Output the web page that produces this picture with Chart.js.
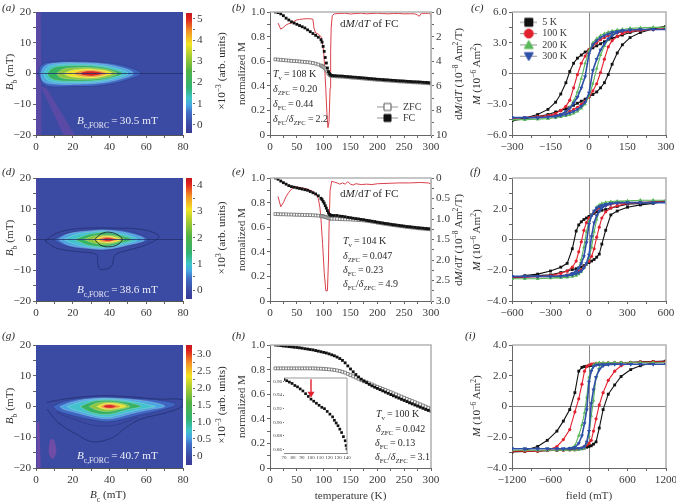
<!DOCTYPE html>
<html><head><meta charset="utf-8">
<style>
html,body{margin:0;padding:0;background:#fff;width:676px;height:504px;overflow:hidden}
#stage{position:absolute;left:0;top:0;width:676px;height:504px;font-family:"Liberation Serif",serif;color:#2b2b2b;filter:blur(.35px)}
canvas{position:absolute}
.t{position:absolute;white-space:nowrap;transform:translate(0,-50%);line-height:1}
.r{transform:translate(-50%,-50%) rotate(-90deg)}
.c{transform:translate(-50%,-50%)}
sub,sup{font-size:68%;line-height:0}
</style>
<script src="https://cdn.jsdelivr.net/npm/chart.js@4"></script>
</head><body><div id="stage"></div>
<script>
/* ---------- magnetisation versus temperature ---------- */
const tempFine=[10,15,20,25,30,35,40,45,50,55,60,65,70,75,80,85,90,95,97,99,101,103,105,107,109,111,113,115,120,125,130,135,140,145,150,155,160,165,170,175,180,185,190,195,200,205,210,215,220,225,230,235,240,245,250,255,260,265,270,275,280,285,290,295,300];
const fcB=[1,.995,.985,.97,.95,.935,.92,.91,.9,.89,.88,.87,.855,.84,.825,.81,.795,.775,.755,.72,.68,.63,.585,.545,.515,.498,.488,.484,.482,.48,.479,.478,.476,.474,.472,.47,.469,.467,.465,.463,.461,.459,.457,.455,.453,.452,.45,.448,.447,.445,.444,.442,.44,.439,.438,.436,.435,.433,.432,.431,.43,.428,.427,.425,.423];
const zfcB=[.615,.613,.611,.609,.607,.605,.603,.601,.6,.598,.596,.594,.592,.589,.585,.58,.573,.565,.56,.555,.548,.54,.53,.515,.5,.49,.483,.48,.478,.476,.475,.474,.472,.47,.468,.466,.465,.463,.461,.459,.457,.455,.453,.451,.449,.448,.446,.444,.443,.441,.44,.438,.436,.435,.434,.432,.431,.429,.428,.427,.426,.424,.423,.421,.418];
const fcE=[1,.99,.975,.962,.95,.938,.93,.925,.92,.915,.91,.905,.9,.89,.88,.87,.855,.835,.825,.81,.795,.775,.755,.735,.715,.703,.698,.696,.695,.695,.69,.688,.685,.68,.677,.673,.67,.667,.663,.66,.655,.652,.648,.645,.64,.637,.633,.63,.627,.623,.62,.617,.614,.611,.608,.605,.603,.6,.598,.595,.593,.591,.589,.587,.585];
const zfcE=[.707,.706,.705,.705,.704,.703,.703,.702,.701,.701,.7,.699,.699,.698,.697,.696,.694,.691,.69,.688,.686,.684,.681,.678,.675,.672,.67,.669,.668,.667,.666,.665,.664,.664,.663,.661,.66,.658,.657,.655,.652,.649,.645,.642,.637,.634,.63,.627,.624,.62,.617,.614,.611,.608,.605,.602,.6,.597,.595,.592,.59,.588,.586,.584,.582];
const tempEven=[10,15,20,25,30,35,40,45,50,55,60,65,70,75,80,85,90,95,100,105,110,115,120,125,130,135,140,145,150,155,160,165,170,175,180,185,190,195,200,205,210,215,220,225,230,235,240,245,250,255,260,265,270,275,280,285,290,295,300];
const fcH=[1,.998,.995,.992,.99,.987,.985,.982,.98,.977,.974,.97,.967,.963,.96,.955,.95,.945,.94,.935,.928,.92,.912,.902,.89,.875,.855,.83,.805,.782,.76,.74,.722,.707,.695,.68,.668,.657,.647,.637,.627,.617,.607,.597,.587,.577,.568,.558,.549,.54,.53,.521,.512,.503,.494,.485,.476,.468,.46];
const zfcH=[.81,.81,.81,.81,.81,.81,.81,.81,.81,.81,.81,.81,.81,.81,.81,.809,.808,.807,.806,.804,.802,.8,.797,.793,.788,.782,.775,.765,.755,.745,.735,.725,.715,.705,.697,.688,.679,.67,.66,.652,.643,.634,.625,.616,.607,.598,.589,.58,.571,.562,.553,.544,.535,.526,.517,.508,.499,.49,.481];
const tempDmB=[15,20,25,30,35,40,45,50,55,60,65,70,75,80,82,85,90,95,98,100,102,104,106,108,110,112,113,114,116,120,130,140,150,160,170,180,190,200,210,220,230,240,250,260,270,275,278,282,290,296,299,300];
const dmdtB=[.9,1.4,1.25,1.05,.95,.9,.75,.65,.6,.58,.55,.55,.55,.6,1.3,1.7,1.8,2.0,2.6,3.2,4.6,6.3,8.2,9.4,8.9,6.2,3.2,1.3,.3,.15,.12,.1,.16,.12,.1,.15,.12,.1,.13,.15,.12,.12,.15,.14,.15,.25,.35,.1,.12,.1,.2,.5];
const tempDmE=[15,20,25,30,35,40,45,50,60,70,80,85,90,93,95,98,101,104,107,109,110,112,115,120,125,130,135,140,145,150,155,160,170,180,190,200,220,240,260,280,295,300];
const dmdtE=[.45,.7,.6,.45,.35,.27,.22,.22,.24,.27,.33,.38,.5,.72,1.0,1.6,2.3,2.75,2.75,2.0,1.2,.3,.08,.1,.12,.15,.12,.15,.09,.15,.17,.14,.16,.15,.16,.14,.13,.12,.12,.11,.12,.15];
const insetT=[70,73,76,79,82,85,88,91,94,97,100,103,106,109,112,115,118,121,124,126,128,130,132,134,136,138,139,140];
const insetM=[.963,.961,.959,.957,.954,.952,.949,.946,.942,.938,.934,.931,.928,.925,.922,.92,.916,.912,.908,.903,.899,.895,.89,.885,.879,.873,.866,.861];
const insetArrowT=[100,100];
const insetArrowM=[.963,.942];
/* ---------- hysteresis loops ---------- */
const fieldC=[-300,-250,-200,-160,-130,-110,-90,-75,-60,-45,-30,-15,0,15,30,45,60,75,90,110,130,160,200,250,300];
const c5Up=[-4.6,-4.35,-4,-3.5,-2.8,-2,-.9,.2,1,1.5,1.8,2.1,2.3,2.5,2.7,2.9,3.1,3.3,3.45,3.6,3.75,4,4.2,4.4,4.6];
const c5Lo=[-4.6,-4.4,-4.2,-4,-3.75,-3.6,-3.45,-3.3,-3.1,-2.9,-2.7,-2.5,-2.25,-2.05,-1.8,-1.4,-.9,-.1,.9,2,2.8,3.5,4,4.35,4.6];
const c100Up=[-4.4,-4.3,-4.2,-4.1,-3.9,-3.6,-3.2,-2.6,-1.4,-.1,1,1.7,2.3,2.7,3,3.3,3.5,3.7,3.8,3.95,4.05,4.15,4.25,4.3,4.4];
const c100Lo=[-4.4,-4.3,-4.25,-4.15,-4.05,-3.95,-3.8,-3.7,-3.5,-3.3,-3,-2.7,-2.3,-1.7,-1,.1,1.4,2.6,3.2,3.6,3.9,4.1,4.2,4.3,4.4];
const c200Up=[-4.5,-4.5,-4.45,-4.4,-4.3,-4.1,-3.8,-3.3,-2.7,-1.8,-.5,1,2.2,3,3.4,3.7,3.9,4.05,4.15,4.25,4.3,4.4,4.45,4.5,4.5];
const c200Lo=[-4.5,-4.5,-4.45,-4.4,-4.3,-4.25,-4.15,-4.05,-3.9,-3.7,-3.4,-3,-2.2,-1,.5,1.8,2.7,3.3,3.8,4.1,4.3,4.4,4.45,4.5,4.5];
const c300Up=[-4.3,-4.3,-4.3,-4.25,-4.15,-4,-3.7,-3.4,-2.9,-2.3,-1.4,-.3,1.9,2.8,3.2,3.5,3.7,3.85,4,4.1,4.2,4.25,4.3,4.3,4.3];
const c300Lo=[-4.3,-4.3,-4.3,-4.25,-4.2,-4.1,-4,-3.85,-3.7,-3.5,-3.2,-2.8,-1.9,.3,1.4,2.3,2.9,3.4,3.7,4,4.15,4.25,4.3,4.3,4.3];
const fieldF=[-600,-500,-400,-300,-220,-170,-130,-100,-80,-60,-40,-20,0,20,40,60,80,100,130,170,220,300,400,500,600];
const f5Up=[-2.5,-2.35,-2.25,-2.05,-1.8,-1.55,-.6,.55,.95,1.15,1.3,1.4,1.5,1.6,1.7,1.8,1.85,1.9,1.95,2.05,2.15,2.3,2.35,2.45,2.5];
const f5Lo=[-2.5,-2.45,-2.35,-2.3,-2.15,-2.05,-1.95,-1.9,-1.85,-1.8,-1.7,-1.6,-1.5,-1.4,-1.3,-1.15,-.95,-.3,.6,1.6,1.85,2.1,2.25,2.35,2.5];
const f100Up=[-2.45,-2.45,-2.4,-2.35,-2.2,-2.05,-1.8,-1.4,-.8,-.15,.6,1.1,1.4,1.6,1.8,1.95,2.05,2.1,2.2,2.3,2.35,2.4,2.42,2.45,2.45];
const f100Lo=[-2.45,-2.45,-2.42,-2.4,-2.35,-2.3,-2.2,-2.1,-2.05,-1.95,-1.8,-1.6,-1.4,-1.1,-.6,.15,.8,1.4,1.8,2.05,2.2,2.35,2.4,2.45,2.45];
const f200Up=[-2.55,-2.55,-2.55,-2.5,-2.45,-2.4,-2.3,-2.1,-1.85,-1.3,-.5,.5,1.2,1.6,1.85,2.1,2.25,2.35,2.42,2.47,2.5,2.52,2.55,2.55,2.55];
const f200Lo=[-2.55,-2.55,-2.55,-2.52,-2.5,-2.47,-2.42,-2.35,-2.25,-2.1,-1.85,-1.6,-1.2,-.5,.5,1.3,1.85,2.1,2.3,2.4,2.45,2.5,2.55,2.55,2.55];
const f300Up=[-2.4,-2.4,-2.4,-2.4,-2.38,-2.32,-2.2,-2.05,-1.85,-1.55,-1.1,-.2,1,1.55,1.85,2.05,2.15,2.22,2.3,2.35,2.38,2.4,2.4,2.4,2.4];
const f300Lo=[-2.4,-2.4,-2.4,-2.4,-2.38,-2.35,-2.3,-2.22,-2.15,-2.05,-1.85,-1.55,-1,.2,1.1,1.55,1.85,2.05,2.2,2.32,2.38,2.4,2.4,2.4,2.4];
const fieldI=[-1200,-1000,-800,-650,-500,-400,-300,-220,-160,-110,-70,-35,0,35,70,110,160,220,300,400,500,650,800,1000,1200];
const i5Up=[-2.95,-2.85,-2.6,-2.2,-1.6,-.95,-.2,.9,2.3,2.55,2.6,2.62,2.65,2.67,2.7,2.72,2.75,2.78,2.8,2.82,2.85,2.87,2.9,2.93,2.95];
const i5Lo=[-2.95,-2.93,-2.9,-2.87,-2.85,-2.82,-2.8,-2.78,-2.75,-2.72,-2.7,-2.65,-2.6,-2.55,-2.45,-2.3,-1.4,-.2,.8,1.4,1.95,2.4,2.65,2.85,2.95];
const i100Up=[-2.9,-2.9,-2.9,-2.85,-2.6,-2.15,-1.5,-.35,.5,1.45,2.3,2.6,2.7,2.75,2.78,2.8,2.82,2.83,2.85,2.85,2.85,2.85,2.88,2.9,2.9];
const i100Lo=[-2.9,-2.9,-2.88,-2.85,-2.85,-2.85,-2.83,-2.82,-2.78,-2.7,-2.6,-2.5,-2.4,-2.2,-1.6,-.8,.1,.9,1.7,2.3,2.65,2.85,2.88,2.9,2.9];
const i200Up=[-2.85,-2.85,-2.85,-2.85,-2.85,-2.82,-2.7,-2.55,-1.9,-1.2,-.4,.6,1.9,2.35,2.7,2.8,2.85,2.85,2.85,2.85,2.85,2.85,2.85,2.85,2.85];
const i200Lo=[-2.85,-2.85,-2.85,-2.85,-2.85,-2.85,-2.85,-2.85,-2.82,-2.78,-2.7,-2.35,-1.9,-.6,.4,1.9,2.5,2.7,2.82,2.85,2.85,2.85,2.85,2.85,2.85];
const i300Up=[-2.75,-2.75,-2.75,-2.75,-2.75,-2.75,-2.72,-2.65,-2.4,-1.9,-1.1,-.2,1.6,2.3,2.6,2.7,2.72,2.73,2.75,2.75,2.75,2.75,2.75,2.75,2.75];
const i300Lo=[-2.75,-2.75,-2.75,-2.75,-2.75,-2.75,-2.75,-2.73,-2.72,-2.7,-2.6,-2.3,-1.6,.2,1.1,1.9,2.4,2.65,2.72,2.75,2.75,2.75,2.75,2.75,2.75];
/* ---------- FORC contours, outer level first: [Bc, Bb] ---------- */
const forcA=[
 [[1.3,0],[3,2.8],[10,3.8],[20,4],[35,3.7],[48,2.5],[57,0],[50,-2],[40,-3.5],[30,-4.2],[20,-4.2],[10,-4.4],[4,-3.5]],
 [[2.5,0],[5,2.5],[12,3.4],[22,3.5],[35,3.2],[46,2],[53,0],[46,-1.8],[35,-3.1],[22,-3.5],[10,-3.4],[4,-2.5]],
 [[4,0],[7,2.2],[14,3],[24,3.1],[35,2.7],[44,1.6],[50,0],[44,-1.5],[35,-2.6],[24,-3],[12,-2.9],[6,-2]],
 [[6,0],[9,1.8],[16,2.5],[25,2.6],[35,2.2],[42,1.3],[47,0],[42,-1.2],[35,-2.1],[25,-2.5],[14,-2.4],[8,-1.6]],
 [[11,0],[15,1.5],[22,1.9],[30,1.9],[37,1.5],[41,.9],[44,0],[41,-.9],[35,-1.6],[28,-1.9],[18,-1.8],[13,-1.2]],
 [[15,0],[19,1],[24,1.4],[30,1.5],[36,1.1],[40,.6],[41.5,0],[39,-.6],[35,-1.1],[30,-1.5],[24,-1.4],[18,-.9]],
 [[20,0],[24,.85],[30,1.15],[35,.85],[38.5,0],[35,-.85],[30,-1.15],[24,-.85]],
 [[23.5,0],[26,.6],[30,.8],[34,.55],[36.5,0],[33.5,-.55],[30,-.8],[26,-.6]]];
const forcD=[
 [[9,0],[16,1.9],[28,3.1],[38,3.4],[50,2.7],[61,0],[50,-2.1],[38,-3.5],[28,-3.2],[16,-2.1]],
 [[12,0],[18,1.9],[30,2.8],[38,3],[50,2.1],[59,0],[50,-1.8],[38,-3.1],[28,-2.8],[18,-1.9]],
 [[15,0],[22,1.7],[31,2.5],[38,2.7],[48,1.7],[55,0],[48,-1.5],[38,-2.7],[28,-2.4],[21,-1.5]],
 [[21,0],[27,1.4],[33,2.1],[38,2.3],[46,1.4],[52,0],[46,-1.2],[38,-2.3],[30,-2],[25,-1.1]],
 [[26,0],[31,1.1],[38,1.5],[44,1.1],[48,0],[44,-1],[38,-1.6],[31,-1.1]],
 [[31,0],[35,.9],[39,1.1],[43,.8],[46,0],[43,-.8],[39,-1.1],[35,-.9]],
 [[33.5,0],[36,.7],[39,.85],[42,.6],[44.5,0],[42,-.6],[39,-.85],[36,-.7]],
 [[35.5,0],[37,.4],[39,.55],[41.5,.4],[43,0],[41.5,-.4],[39,-.55],[37,-.4]]];
const forcG=[
 [[9,0],[15,1.6],[28,2.9],[40,3.1],[55,2.6],[70,1.8],[76,.6],[68,-1.2],[55,-3],[45,-4.5],[38,-5],[30,-4.3],[20,-3],[12,-1.5]],
 [[13,0],[20,1.5],[30,2.5],[40,2.7],[55,2.1],[67,.9],[70,0],[62,-1],[52,-2.3],[44,-3.6],[38,-4],[31,-3.4],[22,-2],[15,-.9]],
 [[17,0],[24,1.4],[32,2.2],[40,2.4],[53,1.6],[63,.3],[65,0],[58,-.8],[50,-1.9],[43,-3],[38,-3.4],[32,-2.9],[24,-1.6],[19,-.7]],
 [[24,0],[30,1.5],[38,2],[46,1.7],[54,.8],[57,0],[50,-1],[44,-2],[38,-2.6],[32,-2.2],[27,-1.1]],
 [[29,0],[33,1.1],[39,1.5],[46,1.1],[51,0],[46,-.9],[39,-1.6],[33,-1.1]],
 [[33,0],[36,.8],[40,1.1],[46,.7],[49,0],[45,-.6],[40,-1],[36,-.7]],
 [[35,0],[37,.6],[40,.8],[44,.5],[46,0],[44,-.5],[40,-.8],[37,-.6]],
 [[36.5,0],[38,.45],[40,.55],[42,.4],[43.5,0],[42,-.4],[40,-.5],[38,-.4]]];
const forcDOutlines=[
 [[5,-.5],[11,2],[22,3.5],[42,3.7],[58.5,3.2],[67,1],[60,-1.7],[49,-3.7],[43,-5],[41,-8.8],[35,-9.7],[33.5,-7.2],[33,-4.8],[22,-3.9],[11,-2.8]],
 [[32,0],[35,1.7],[39,2.4],[44,1.7],[47,0],[44,-1.8],[39,-2.4],[35,-1.8]]];
const forcGOutline=[[6,1.3],[15,2.4],[35,3.5],[53,3.1],[66,2.4],[80,2.2],[80,.2],[71,-2],[57,-4.1],[49,-6.8],[42,-10],[31,-11.5],[22,-9],[12,-5.2],[6,-.9]];
const forcGOutline2=[[11,-2],[20,-4],[30,-6],[38,-6.4],[46,-5.6],[55,-3.6]];
const forcAStreakV=[[0,20],[2.6,20],[3,-20],[0,-20]];
const forcAStreakD=[[2.5,-4],[6,-5],[21,-20],[15,-20]];
const forcDStreakV=[[0,20],[1.6,20],[1.8,-20],[0,-20]];
const forcGStreakV=[[.4,-5],[1.8,-5],[2.6,-20],[.4,-20]];
const forcGBlob=[[7.5,-11],[9,-10.5],[10.5,-12],[11,-15],[9,-17],[7,-15]];
const ridgeBc=[0,80];
const ridgeBb=[0,0];
/* ---------- axis ticks and scale limits ---------- */
const bcTicks=[0,20,40,60,80], bcMinor=[10,30,50,70];
const bbTicks=[-20,-10,0,10,20], bbMinor=[-15,-5,5,15];
const tTicks=[0,50,100,150,200,250,300], tMinor=[25,75,125,175,225,275];
const mnTicks=[0,.2,.4,.6,.8,1], mnMinor=[.1,.3,.5,.7,.9], mnLabels=['0','0.2','0.4','0.6','0.8','1.0'];
const dmTicksB=[0,2,4,6,8,10], dmMinorB=[1,3,5,7,9], dmLabelsB=['0','2','4','6','8','10'];
const dmTicksE=[0,.5,1,1.5,2,2.5,3], dmMinorE=[.25,.75,1.25,1.75,2.25,2.75], dmLabelsE=['0','0.5','1.0','1.5','2.0','2.5','3.0'];
const cbTicksA=[0,1,2,3,4,5], cbTicksD=[0,1,2,3,4], cbTicksG=[0,.5,1,1.5,2,2.5,3];
const cbLabelsA=['0','1','2','3','4','5'], cbLabelsD=['0','1','2','3','4'], cbLabelsG=['0','0.5','1.0','1.5','2.0','2.5','3.0'];
const cbRangeA=[-.39,5.28], cbRangeD=[-.34,4.27], cbRangeG=[-.27,3.27];
const insetXTicks=[70,80,90,100,110,120,130,140];
const insetYTicks=[.86,.88,.9,.92,.94,.96], insetYLabels=['0.86','0.88','0.90','0.92','0.94','0.96'];
/* ---------- styles ---------- */
const FF='"Liberation Serif",serif', INK='#3a3a3a', TXT=11.2, NOTE=10;
const levelColors=['#3f66c2','#4aa6e2','#42c2cc','#36b262','#8ec63e','#f0e428','#f29a26','#dc2420'];
const T_COL={k:'#111111',r:'#e2212f',g:'#5cb85a',b:'#2f50a8'};
const rows=[[0,165,135],[165,169,301],[334,170,468]];
const tops=[12,178,345];
const minus=s=>String(s).replace('-','\u2212');
const stage=document.getElementById('stage');
const plain={responsive:false,animation:false,devicePixelRatio:1,events:[]};

function axis(o){
  const labels=o.labels||o.major.map(minus);
  return {type:'linear',position:o.pos,min:o.min,max:o.max,reverse:!!o.rev,
    afterBuildTicks:s=>{s.ticks=o.major.concat(o.minor||[]).map(v=>({value:v}))},
    afterFit:s=>{if(s.isHorizontal())s.height=o.size;else s.width=o.size},
    grid:{drawOnChartArea:!!o.cross,tickLength:o.tick||3,tickColor:'#666',lineWidth:1,
      color:c=>c.tick&&c.tick.value===0?'#8a8a8a':'rgba(0,0,0,0)'},
    border:{color:o.borderColor||'#666',width:1},
    title:o.title?{display:true,text:o.title,color:INK,font:{family:FF,size:TXT},padding:o.titlePad}:{display:false},
    ticks:{autoSkip:false,maxRotation:0,minRotation:0,padding:o.pad===undefined?2:o.pad,color:INK,font:{family:FF,size:o.font||TXT},
      callback:v=>{const i=o.major.indexOf(v);return i<0?'':labels[i]}}};
}
const framePlugin={id:'frame',afterDatasetsDraw(ch,a,o){
  const {left,right,top,bottom}=ch.chartArea,c=ch.ctx;
  c.save();c.strokeStyle=o.color||'#b4b4b4';c.lineWidth=o.width||1.6;
  c.beginPath();c.moveTo(left,top);c.lineTo(right,top);c.lineTo(right,bottom);c.stroke();c.restore();
}};
const paperPlugin={id:'paper',beforeDatasetsDraw(ch,a,o){
  if(!o.color)return;const {left,width,top,height}=ch.chartArea;
  ch.ctx.save();ch.ctx.fillStyle=o.color;ch.ctx.fillRect(left,top,width,height);ch.ctx.restore();
}};
function mount(id,rect,plot,rightW,cfg){
  const el=document.createElement('canvas');el.id=id;el.width=rect[2];el.height=rect[3];
  el.style.cssText=`left:${rect[0]}px;top:${rect[1]}px;width:${rect[2]}px;height:${rect[3]}px`;
  stage.appendChild(el);
  cfg.options=Object.assign({},plain,cfg.options);
  cfg.options.layout={autoPadding:false,padding:{left:cfg.leftPad||0,top:plot[1]-rect[1],right:rect[0]+rect[2]-plot[2]-rightW,bottom:cfg.bottomPad||0}};
  cfg.plugins=[paperPlugin,framePlugin];
  return new Chart(el.getContext('2d'),cfg);
}
const pts=(xs,ys)=>xs.map((x,i)=>({x,y:ys[i]}));
const loop=(xs,up,lo)=>pts(xs.slice().reverse(),up.slice().reverse()).concat(pts(xs,lo));
const close=p=>p.concat([p[0]]);

/* ---- FORC panels ---- */
function forcPanel(id,row,levels,extras){
  const ds=[];
  extras.under.forEach(e=>ds.push({data:close(e.p),showLine:true,pointRadius:0,fill:'shape',backgroundColor:e.c,borderWidth:0,borderColor:e.c,tension:e.t||0}));
  levels.forEach((p,i)=>ds.push({data:close(p),showLine:true,pointRadius:0,fill:'shape',backgroundColor:levelColors[i],
    borderColor:i<1?'#2b3a84':'rgba(225,235,225,.45)',borderWidth:.6,tension:.4}));
  extras.lines.forEach(e=>ds.push({data:e.open?e.p:close(e.p),showLine:true,pointRadius:0,fill:false,borderColor:e.c,borderWidth:e.w||.7,tension:.35}));
  ds.forEach((d,i)=>d.order=ds.length-i);
  const [cy,ch,B]=rows[row];
  mount(id,[0,cy,200,ch],[36,tops[row],183,B],0,{type:'scatter',data:{datasets:ds},leftPad:0,
    options:{plugins:{legend:{display:false},tooltip:{enabled:false},paper:{color:'#3b4aa2'},frame:{color:'rgba(0,0,0,0)'}},
      scales:{x:axis({pos:'bottom',min:0,max:80,major:bcTicks,minor:bcMinor,size:cy+ch-B,borderColor:'#555'}),
              y:axis({pos:'left',min:-20,max:20,major:bbTicks,minor:bbMinor,size:36,borderColor:'#555'})}}});
  return ds;
}
const ridge={p:pts(ridgeBc,ridgeBb),c:'#24306e',w:.8,open:true};
forcPanel('forcA',0,forcA,{under:[{p:forcAStreakV,c:'#5a4aa6'},{p:forcAStreakD,c:'#5a4aa6'}],lines:[ridge]});
forcPanel('forcD',1,forcD,{under:[{p:forcDStreakV,c:'#4548a4'}],
  lines:[ridge,{p:forcDOutlines[0],c:'#1f2b6c'},{p:forcDOutlines[1],c:'#14141c',w:.8}]});
forcPanel('forcG',2,forcG,{under:[{p:forcGStreakV,c:'#6a4aa6'},{p:forcGBlob,c:'#6f4ca6',t:.4}],
  lines:[{p:forcGOutline,c:'#1f2b6c',open:true},{p:forcGOutline2,c:'#2a3a88',open:true}]});

/* ---- colour bars ---- */
function colorbar(id,row,range,top,bottom,major,labels){
  const [cy,ch]=rows[row];
  const stops=[[0,'#3a3c96'],[.07,'#3b4aa4'],[.17,'#3f6ec4'],[.23,'#48a4e2'],[.29,'#40c4c8'],[.38,'#32b272'],[.52,'#52b244'],[.66,'#b4d030'],[.74,'#f2e424'],[.85,'#f29224'],[.95,'#e0241f'],[1,'#c4181c']];
  const minor=[];for(let i=1;i<major.length;i++)minor.push((major[i]+major[i-1])/2);
  mount(id,[178,cy,47,ch],[186,top,192,bottom],33,{type:'bar',data:{labels:[''],datasets:[{data:[range],
      backgroundColor:c=>{const a=c.chart.chartArea;if(!a)return '#3b4aa2';const g=c.chart.ctx.createLinearGradient(0,a.bottom,0,a.top);stops.forEach(s=>g.addColorStop(s[0],s[1]));return g},
      barPercentage:1,categoryPercentage:1,borderWidth:0}]},
    leftPad:8,bottomPad:cy+ch-bottom,
    options:{plugins:{legend:{display:false},tooltip:{enabled:false},frame:{color:'rgba(0,0,0,0)'}},
      scales:{x:{type:'category',display:false,offset:true},
        y:axis({pos:'right',min:range[0],max:range[1],major,minor,labels,size:33,borderColor:'rgba(0,0,0,0)',pad:2})}}});
}
colorbar('cbA',0,cbRangeA,13,133,cbTicksA,cbLabelsA);
colorbar('cbD',1,cbRangeD,178,299,cbTicksD,cbLabelsD);
colorbar('cbG',2,cbRangeG,345,465,cbTicksG,cbLabelsG);

/* ---- M(T) panels ---- */
function mtPanel(id,row,t,fc,zfc,red){
  const ds=[];
  if(red)ds.push({label:'dM/dT of FC',data:pts(red.t,red.v),yAxisID:'y2',showLine:true,pointRadius:0,borderColor:'#d9404a',borderWidth:1,tension:0,order:3});
  ds.push({label:'ZFC',data:pts(t,zfc),showLine:false,pointStyle:'rect',pointRadius:2,backgroundColor:'#fff',borderColor:'#6a6a6a',borderWidth:.8,order:2});
  ds.push({label:'FC',data:pts(t,fc),showLine:false,pointStyle:'rect',pointRadius:2,backgroundColor:'#111',borderColor:'#111',borderWidth:0,order:1});
  const [cy,ch,B]=rows[row];
  const scales={x:axis({pos:'bottom',min:0,max:300,major:tTicks,minor:tMinor,size:cy+ch-B,title:row===2?'temperature (K)':null,titlePad:{top:0,bottom:1}}),
    y:axis({pos:'left',min:0,max:1,major:mnTicks,minor:mnMinor,labels:mnLabels,size:45,title:'normalized M',titlePad:{top:10,bottom:0}})};
  if(red)scales.y2=axis({pos:'right',min:0,max:red.max,rev:true,major:red.major,minor:red.minor,labels:red.labels,size:19,borderColor:'#b4b4b4'});
  mount(id,[225,cy,225,ch],[270,tops[row],431,B],red?19:0,{type:'scatter',data:{datasets:ds},
    options:{plugins:{legend:{display:false},tooltip:{enabled:false}},scales}});
}
mtPanel('mtB',0,tempFine,fcB,zfcB,{t:tempDmB,v:dmdtB,max:10,major:dmTicksB,minor:dmMinorB,labels:dmLabelsB});
mtPanel('mtE',1,tempFine,fcE,zfcE,{t:tempDmE,v:dmdtE,max:3,major:dmTicksE,minor:dmMinorE,labels:dmLabelsE});
mtPanel('mtH',2,tempEven,fcH,zfcH,null);

/* ---- inset of panel h ---- */
mount('inset',[262,366,100,102],[284,378,347,453],0,{type:'scatter',
  data:{datasets:[
    {label:'arrow',data:pts(insetArrowT,insetArrowM),showLine:true,borderColor:'#e2212f',borderWidth:1.4,pointStyle:'triangle',pointRotation:180,
      pointRadius:[0,4],backgroundColor:'#e2212f',pointBorderWidth:0,order:1},
    {label:'FC',data:pts(insetT,insetM),showLine:false,pointStyle:'rect',pointRadius:1.9,backgroundColor:'#111',borderWidth:0,order:2}]},
  options:{plugins:{legend:{display:false},tooltip:{enabled:false},paper:{color:'#fff'},frame:{color:'#9a9a9a',width:1}},
    scales:{x:axis({pos:'bottom',min:70,max:140,major:insetXTicks,size:15,font:5,tick:1,pad:1,borderColor:'#888'}),
            y:axis({pos:'left',min:.855,max:.965,major:insetYTicks,labels:insetYLabels,size:22,font:5,tick:1,pad:1,borderColor:'#888'})}}});

/* ---- hysteresis panels ---- */
const shapeOf={k:{s:'rect',r:2,rot:0},r:{s:'circle',r:1.6,rot:0},g:{s:'triangle',r:2.1,rot:0},b:{s:'triangle',r:2.4,rot:180}};
function hysPanel(id,row,field,sets,xm,xn,xl,xmax,ym,yn,yl,ymax,xTitle){
  const labels=['5 K','100 K','200 K','300 K'];
  const keys=['k','r','g','b'];
  const ds=sets.map((s,i)=>{const k=keys[i],sh=shapeOf[k];return {label:labels[i],data:loop(field,s[0],s[1]),showLine:true,
    borderColor:T_COL[k],borderWidth:i===3?1.6:1.1,pointStyle:sh.s,pointRadius:sh.r,pointRotation:sh.rot,
    pointBackgroundColor:T_COL[k],pointBorderWidth:0,order:4-i}});
  const [cy,ch,B]=rows[row];
  mount(id,[450,cy,226,ch],[512,tops[row],666,B],0,{type:'scatter',data:{datasets:ds},
    options:{plugins:{legend:{display:false},tooltip:{enabled:false}},
      scales:{x:axis({pos:'bottom',min:-xmax,max:xmax,major:xm,minor:xn,labels:xl,size:cy+ch-B,cross:true,title:xTitle,titlePad:{top:0,bottom:1}}),
              y:axis({pos:'left',min:-ymax,max:ymax,major:ym,minor:yn,labels:yl,size:62,cross:true})}}});
}
const hysXC=[-300,-150,0,150,300],hysXCm=[-225,-75,75,225],hysXCl=['\u2212300','\u2212150','0','150','300'];
const hysYC=[-6,-3,0,3,6],hysYCm=[-4.5,-1.5,1.5,4.5],hysYCl=['\u22126.0','\u22123.0','0','3.0','6.0'];
const hysXF=[-600,-300,0,300,600],hysXFm=[-450,-150,150,450],hysXFl=['\u2212600','\u2212300','0','300','600'];
const hysY4=[-4,-2,0,2,4],hysY4m=[-3,-1,1,3],hysY4l=['\u22124.0','\u22122.0','0','2.0','4.0'];
const hysXI=[-1200,-600,0,600,1200],hysXIm=[-900,-300,300,900],hysXIl=['\u22121200','\u2212600','0','600','1200'];
hysPanel('hysC',0,fieldC,[[c5Up,c5Lo],[c100Up,c100Lo],[c200Up,c200Lo],[c300Up,c300Lo]],hysXC,hysXCm,hysXCl,300,hysYC,hysYCm,hysYCl,6,null);
hysPanel('hysF',1,fieldF,[[f5Up,f5Lo],[f100Up,f100Lo],[f200Up,f200Lo],[f300Up,f300Lo]],hysXF,hysXFm,hysXFl,600,hysY4,hysY4m,hysY4l,4,null);
hysPanel('hysI',2,fieldI,[[i5Up,i5Lo],[i100Up,i100Lo],[i200Up,i200Lo],[i300Up,i300Lo]],hysXI,hysXIm,hysXIl,1200,hysY4,hysY4m,hysY4l,4,'field (mT)');

/* ---- legends ---- */
function keyGlyph(w,shape,fill,stroke,size,rot){
  const c=document.createElement('canvas');c.width=w;c.height=Math.ceil(size)+4;const g=c.getContext('2d');
  const cx=w/2,cy=c.height/2;
  g.strokeStyle='#777';g.lineWidth=.8;g.beginPath();g.moveTo(0,cy);g.lineTo(w,cy);g.stroke();
  g.fillStyle=fill;g.strokeStyle=stroke;g.lineWidth=1;g.beginPath();const h=size/2;
  if(shape==='rect')g.rect(cx-h,cy-h,size,size);
  else if(shape==='circle')g.arc(cx,cy,h,0,Math.PI*2);
  else{const s=rot?-1:1;g.moveTo(cx,cy-s*h);g.lineTo(cx+h,cy+s*h*.8);g.lineTo(cx-h,cy+s*h*.8);g.closePath()}
  g.fill();g.stroke();return c;
}
function legendBox(id,rect,keyW,rowGap,items){
  mount(id,rect,[rect[0],rect[1],rect[0]+rect[2],rect[1]+rect[3]],0,{type:'scatter',data:{datasets:[]},
    options:{plugins:{tooltip:{enabled:false},frame:{color:'rgba(0,0,0,0)'},
      legend:{display:true,position:'left',align:'start',maxWidth:rect[2],maxHeight:rect[3],labels:{usePointStyle:true,pointStyleWidth:keyW,boxHeight:10,padding:rowGap,color:INK,font:{family:FF,size:10},
        generateLabels:()=>items.map(it=>({text:it.text,pointStyle:it.glyph,fontColor:INK,lineWidth:0,strokeStyle:'rgba(0,0,0,0)',fillStyle:'rgba(0,0,0,0)'}))}}},
      scales:{x:{display:false},y:{display:false}}}});
}
legendBox('legC',[519,16,80,60],17,1.3,[
 {text:'5 K',glyph:keyGlyph(17,'rect','#111','#111',8)},
 {text:'100 K',glyph:keyGlyph(17,'circle',T_COL.r,T_COL.r,9)},
 {text:'200 K',glyph:keyGlyph(17,'tri',T_COL.g,T_COL.g,9)},
 {text:'300 K',glyph:keyGlyph(17,'tri',T_COL.b,T_COL.b,9,1)}]);
legendBox('legB',[376,101,60,30],21,1,[
 {text:'ZFC',glyph:keyGlyph(21,'rect','#fff','#555',7)},
 {text:'FC',glyph:keyGlyph(21,'rect','#111','#111',7)}]);

/* ---- text: panel letters, rich axis titles, annotations ---- */
const panelLetters=[['(a)',2,8],['(b)',232,8],['(c)',471,8],['(d)',2,172],['(e)',232,172],['(f)',470,172],['(g)',2,336],['(h)',232,336],['(i)',465,336]];
const bbLabel='<i>B</i><sub>b</sub> (mT)';
const eq='\u2009=\u2009';
const rotated=[
 [bbLabel,10,72,TXT],[bbLabel,10,238,TXT],[bbLabel,10,406,TXT],
 ['×10<sup>−3</sup> (arb. units)',222,71,TXT],['×10<sup>3</sup> (arb. units)',222,238,TXT],['×10<sup>−3</sup> (arb. units)',222,405,TXT],
 ['d<i>M</i>/d<i>T</i> (10<sup>−8</sup> Am<sup>2</sup>/T)',459,74,TXT],['<i>M</i> (10<sup>−6</sup> Am<sup>2</sup>)',477,74,TXT],
 ['d<i>M</i>/d<i>T</i> (10<sup>−8</sup> Am<sup>2</sup>/T)',459,240,TXT],['<i>M</i> (10<sup>−6</sup> Am<sup>2</sup>)',477,240,TXT],
 ['<i>M</i> (10<sup>−6</sup> Am<sup>2</sup>)',477,406,TXT]];
const notes=[
 ['<i>B</i><sub>c,FORC</sub>'+eq+'30.5 mT',77,121,TXT,'#eef0f8'],['<i>B</i><sub>c,FORC</sub>'+eq+'38.6 mT',77,290,TXT,'#eef0f8'],['<i>B</i><sub>c,FORC</sub>'+eq+'40.7 mT',77,456,TXT,'#eef0f8'],
 ['d<i>M</i>/d<i>T</i> of FC',340,24,TXT],['d<i>M</i>/d<i>T</i> of FC',340,194,TXT],
 ['<i>T</i><sub>v</sub>'+eq+'108 K',273,74,NOTE],['<i>δ</i><sub>ZFC</sub>'+eq+'0.20',273,89,NOTE],['<i>δ</i><sub>FC</sub>'+eq+'0.44',273,104,NOTE],['<i>δ</i><sub>FC</sub>/<i>δ</i><sub>ZFC</sub>'+eq+'2.2',273,119,NOTE],
 ['<i>T</i><sub>v</sub>'+eq+'104 K',343,241,NOTE],['<i>δ</i><sub>ZFC</sub>'+eq+'0.047',343,256,NOTE],['<i>δ</i><sub>FC</sub>'+eq+'0.23',343,270,NOTE],['<i>δ</i><sub>FC</sub>/<i>δ</i><sub>ZFC</sub>'+eq+'4.9',343,284,NOTE],
 ['<i>T</i><sub>v</sub>'+eq+'100 K',376,414,NOTE],['<i>δ</i><sub>ZFC</sub>'+eq+'0.042',376,429,NOTE],['<i>δ</i><sub>FC</sub>'+eq+'0.13',375,443,NOTE],['<i>δ</i><sub>FC</sub>/<i>δ</i><sub>ZFC</sub>'+eq+'3.1',375,457,NOTE]];
function put(html,x,y,size,cls,color){const d=document.createElement('div');d.className='t '+cls;d.innerHTML=html;
  d.style.left=x+'px';d.style.top=y+'px';d.style.fontSize=size+'px';if(color)d.style.color=color;stage.appendChild(d)}
panelLetters.forEach(p=>put('<i>'+p[0]+'</i>',p[1],p[2],TXT,''));
rotated.forEach(r=>put(r[0],r[1],r[2],r[3],'r'));
notes.forEach(n=>put(n[0],n[1],n[2],n[3],'',n[4]));
put('<i>B</i><sub>c</sub> (mT)',108,495,TXT,'c');
</script></body></html>
